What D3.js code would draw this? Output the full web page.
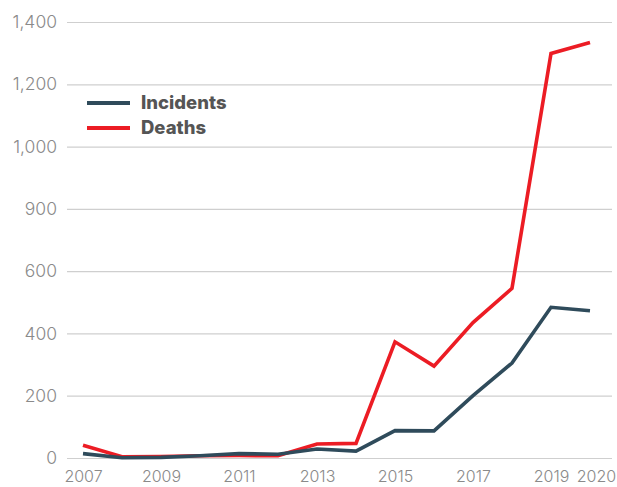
<!DOCTYPE html>
<html><head><meta charset="utf-8">
<script src="https://cdn.jsdelivr.net/npm/d3@7/dist/d3.min.js"></script>
<style>
html,body{margin:0;padding:0;background:#fff;}
svg{display:block;}
</style></head>
<body>
<svg id="chart" width="617" height="487"></svg>
<script>
const years = [2007,2008,2009,2010,2011,2012,2013,2014,2015,2016,2017,2018,2019,2020];
const incidents = [14,1,2,7,14,12,29,22,88,87,200,305,484,473];
const deaths = [41,4,5,7,8,7,45,47,373,295,435,545,1299,1334];
const yTickValues = [0,200,400,600,800,1000,1200,1400];
const yTickLabels = ["0","200","400","600","900","1,000","1,200","1,400"];
const xTickValues = [2007,2009,2011,2013,2015,2017,2019,2020];
const seriesNames = ["Incidents","Deaths"];
const seriesColors = ["#2f4b5b","#ec1c24"];

const svg = d3.select("#chart");
const x = d3.scaleLinear().domain([2007,2020]).range([83,590]);
const y = d3.scaleLinear().domain([0,1400]).range([458,22]);

const yAxis = d3.axisLeft(y).tickValues(yTickValues)
  .tickFormat((d,i)=>yTickLabels[i]).tickSize(-(612-67)).tickPadding(10);
const gy = svg.append("g").attr("transform","translate(67,0)").call(yAxis);
gy.select(".domain").remove();
gy.selectAll(".tick line").attr("stroke","#cfcfcf").attr("stroke-width",1.2);
gy.selectAll(".tick text").attr("fill","#8a8a8a").attr("font-size",17.5)
  .attr("font-family","Inter, 'Open Sans', sans-serif").attr("font-weight",300).attr("x",-10);

const xAxis = d3.axisBottom(x).tickValues(xTickValues).tickFormat(d3.format("d")).tickSize(0).tickPadding(13);
const gx = svg.append("g").attr("transform","translate(0,458)").call(xAxis);
gx.select(".domain").remove();
gx.selectAll(".tick text").attr("fill","#8a8a8a").attr("font-size",16)
  .attr("font-family","Inter, 'Open Sans', sans-serif").attr("font-weight",300)
  .attr("dx", d => d===2020 ? 6 : 0);

const line = d3.line().x((d,i)=>x(years[i])).y(d=>y(d));
svg.append("path").datum(deaths).attr("d",line).attr("fill","none")
  .attr("stroke",seriesColors[1]).attr("stroke-width",3.6).attr("stroke-linejoin","miter");
svg.append("path").datum(incidents).attr("d",line).attr("fill","none")
  .attr("stroke",seriesColors[0]).attr("stroke-width",3.6).attr("stroke-linejoin","miter");

const lg = svg.append("g");
seriesNames.forEach((n,i)=>{
  const yy = 103 + i*25;
  lg.append("line").attr("x1",87).attr("x2",130).attr("y1",yy).attr("y2",yy)
    .attr("stroke",seriesColors[i]).attr("stroke-width",4);
  lg.append("text").attr("x",141).attr("y",yy+6).text(n)
    .attr("fill","#555").attr("font-size",18.5).attr("font-weight",800)
    .attr("font-family","Inter, 'Open Sans', sans-serif");
});
</script>
</body></html>
